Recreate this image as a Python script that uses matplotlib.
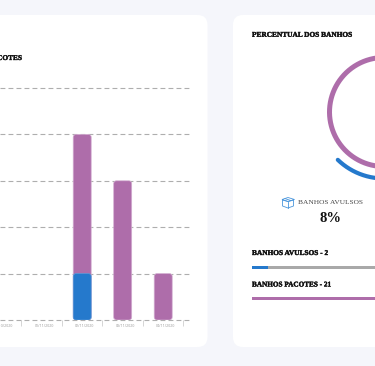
import numpy as np
import matplotlib
matplotlib.use('Agg')
import matplotlib.pyplot as plt
import matplotlib.patheffects as pe
from matplotlib.patches import FancyBboxPatch, Polygon
from matplotlib.transforms import ScaledTranslation

# chart values
days = ['31/10/2020', '01/11/2020', '02/11/2020', '03/11/2020', '04/11/2020']
avulsos = [0, 0, 2, 0, 0]
pacotes = [0, 0, 6, 6, 2]
y_ticks = [0, 2, 4, 6, 8, 10]

# ring arcs in degrees, counter clockwise from east
ring_pacotes = (0, 360)
ring_avulsos = (226, 300)

total_names = ['BANHOS AVULSOS - 2', 'BANHOS PACOTES - 21']
total_values = [2, 21]
total_all = 23

PURPLE = '#ae6daa'
BLUE = '#2579cc'
W, H = 375, 366

fig = plt.figure(figsize=(W / 100, H / 100), dpi=100, facecolor='#f5f6fb')


def px_axes(x0, y0, x1, y1, **kw):
    # axes from pixel box, y counted from the top like in the screenshot
    return fig.add_axes([x0 / W, 1 - y1 / H, (x1 - x0) / W, (y1 - y0) / H], **kw)


# background layer, in pixels
bg = px_axes(0, 0, W, H)
bg.set_xlim(0, W)
bg.set_ylim(H, 0)
bg.axis('off')
for x0, x1 in [(-40, 207.5), (233, 440)]:
    bg.add_patch(FancyBboxPatch((x0, 15), x1 - x0, 332, boxstyle='round,pad=0,rounding_size=10',
                                fc='white', ec='none'))

serif = 'Liberation Serif'
# the heading font of the original is heavier than Liberation bold
heavy = [pe.withStroke(linewidth=0.25, foreground='#111111')]
for x, y, s, size, ha in [(22.5, 58.5, 'BANHOS PACOTES', 5.3, 'right'),
                          (252, 35.3, 'PERCENTUAL DOS BANHOS', 5.3, 'left'),
                          (252, 253.5, total_names[0], 5.3, 'left'),
                          (252, 285, total_names[1], 5.2, 'left')]:
    bg.text(x, y, s, ha=ha, va='center', fontsize=size, fontweight='bold', family=serif,
            color='#111111', path_effects=heavy)
bg.text(298.5, 203, 'BANHOS AVULSOS', ha='left', va='center', fontsize=5.3, family=serif, color='#444444')
bg.text(330, 218, '8%', ha='center', va='center', fontsize=10.5, fontweight='bold', family=serif, color='#111111')

# little box icon
box = [[(282, 199.5), (288, 197.5), (294.5, 199.5), (288, 201.5)],
       [(282.5, 200), (282.5, 206), (288, 208), (293.5, 206), (293.5, 200), (288, 201.5)]]
for pts in box:
    bg.add_patch(Polygon(pts, closed=True, fc='none', ec='#4a96dc', lw=0.6))
bg.plot([288, 288], [201.5, 208], color='#4a96dc', lw=0.6)
bg.plot([285, 291], [198.6, 200.6], color='#4a96dc', lw=0.6)

# stacked bars
ax = px_axes(0, 88, 190, 320)
ax.patch.set_alpha(0)
ax.set_xlim(-1.2 / 40.5, 188.8 / 40.5)
ax.set_ylim(0, 10)
for s in ax.spines.values():
    s.set_visible(False)
ax.set_yticks(y_ticks)
ax.tick_params(axis='y', length=0, labelleft=False)
ax.grid(axis='y', color='#aeaeae', lw=0.8, dashes=(4.4, 2.8), zorder=0)
for line in ax.get_ygridlines():
    line.set_clip_on(False)

xs = np.arange(len(days))
ax.set_xticks(xs)
ax.set_xticklabels(days, fontsize=2.6, color='#9a9a9a', family='Open Sans')
ax.set_xticks(xs + 0.5, minor=True)
ax.tick_params(axis='x', which='major', length=0, pad=3.2)
ax.tick_params(axis='x', which='minor', length=4.5, width=0.6, color='#cfcfcf')
for lab in ax.get_xticklabels():
    lab.set_transform(lab.get_transform() + ScaledTranslation(2.4 / 100, 0, fig.dpi_scale_trans))


def round_bar(x, h, color, edge):
    w = 0.444
    ax.add_patch(FancyBboxPatch((x - w / 2, 0), w, h, boxstyle='round,pad=0,rounding_size=0.07',
                                mutation_aspect=1.75, fc=color, ec=edge, lw=0.5, zorder=3))


for x, a, p in zip(xs, avulsos, pacotes):
    if a + p > 0:
        round_bar(x, a + p, PURPLE, '#d3aed1')
    if a > 0:
        round_bar(x, a, BLUE, '#5b9ad9')

# ring, centre sits outside the canvas
ring = fig.add_axes([309 / W, 1 - 187 / H, 150 / W, 150 / H], projection='polar')
ring.set_ylim(0, 75)
ring.axis('off')
ring.patch.set_alpha(0)
for (a0, a1), r, c, lw in [(ring_pacotes, 54.5, PURPLE, 3.6), (ring_avulsos, 66.5, BLUE, 3.0)]:
    th = np.radians(np.linspace(a0, a1, 300))
    ring.plot(th, np.full_like(th, r), color=c, lw=lw, solid_capstyle='round')

# progress bars, scale runs on past the right edge of the canvas
for name, val, y, c, back in [(total_names[0], total_values[0], 267.4, BLUE, '#a9a9a9'),
                              (total_names[1], total_values[1], 298.6, PURPLE, '#a9a9a9')]:
    pb = px_axes(252, y - 1.2, 436, y + 1.2)
    pb.set_xlim(0, total_all)
    pb.set_ylim(0, 1)
    pb.axis('off')
    pb.barh(0.5, total_all, height=1, color=back)
    pb.barh(0.5, val, height=1, color=c)

fig.savefig('out.png', dpi=100, facecolor=fig.get_facecolor())
